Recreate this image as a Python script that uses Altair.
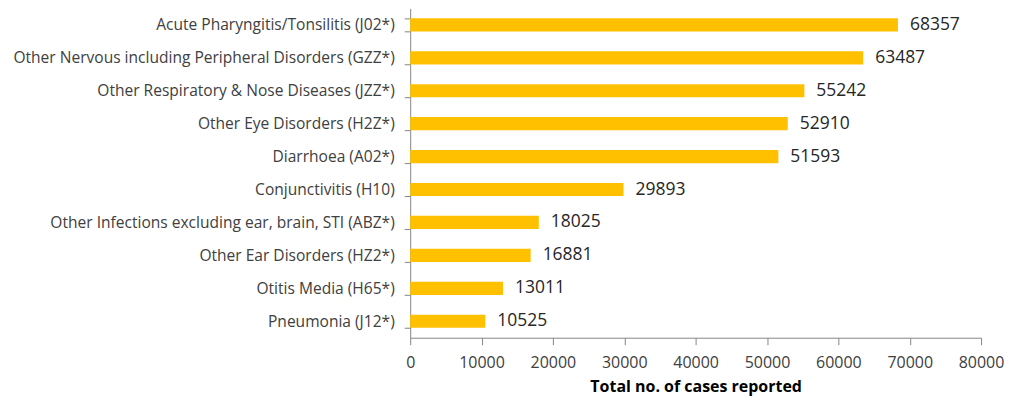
import altair as alt
import pandas as pd

categories = [
    "Acute Pharyngitis/Tonsilitis (J02*)",
    "Other Nervous including Peripheral Disorders (GZZ*)",
    "Other Respiratory & Nose Diseases (JZZ*)",
    "Other Eye Disorders (H2Z*)",
    "Diarrhoea (A02*)",
    "Conjunctivitis (H10)",
    "Other Infections excluding ear, brain, STI (ABZ*)",
    "Other Ear Disorders (HZ2*)",
    "Otitis Media (H65*)",
    "Pneumonia (J12*)",
]
cases = [68357, 63487, 55242, 52910, 51593, 29893, 18025, 16881, 13011, 10525]
tick_values = [0, 10000, 20000, 30000, 40000, 50000, 60000, 70000, 80000]

df = pd.DataFrame({"category": categories, "cases": cases})

FONT = "Open Sans"
TXT = "#404040"
AX = "#868686"

y_enc = alt.Y(
    "category:N",
    sort=categories,
    title=None,
    scale=alt.Scale(paddingInner=0.6, paddingOuter=0.3),
    axis=alt.Axis(
        tickBand="extent",
        tickSize=6,
        tickColor=AX,
        domainColor=AX,
        labelFontSize=15.6,
        labelFont=FONT,
        labelColor=TXT,
        labelPadding=10,
        labelLimit=600,
    ),
)
x_enc = alt.X(
    "cases:Q",
    title="Total no. of cases reported",
    scale=alt.Scale(domain=[0, 80000]),
    axis=alt.Axis(
        values=tick_values,
        format="d",
        grid=False,
        tickSize=7,
        tickColor=AX,
        domainColor=AX,
        labelFontSize=16,
        labelFont=FONT,
        labelColor=TXT,
        labelPadding=10,
        labelOverlap=False,
        labelFlush=False,
        titleFontSize=16,
        titleFont=FONT,
        titleFontWeight="bold",
        titleColor="#000000",
        titlePadding=8,
    ),
)

bars = alt.Chart(df).mark_bar(color="#FFC000").encode(y=y_enc, x=x_enc)
labels = alt.Chart(df).mark_text(
    align="left", baseline="middle", dx=12, fontSize=17.5, font=FONT, color="#262626"
).encode(y=alt.Y("category:N", sort=categories), x="cases:Q", text="cases:Q")

chart = (
    (bars + labels)
    .properties(
        width=572,
        height=330,
        autosize=alt.AutoSizeParams(type="none"),
        padding={"left": 403, "top": 0, "right": 24, "bottom": 60},
    )
    .configure_view(stroke=None)
)

chart.save("out.html", embed_options={"renderer": "svg", "actions": False})
